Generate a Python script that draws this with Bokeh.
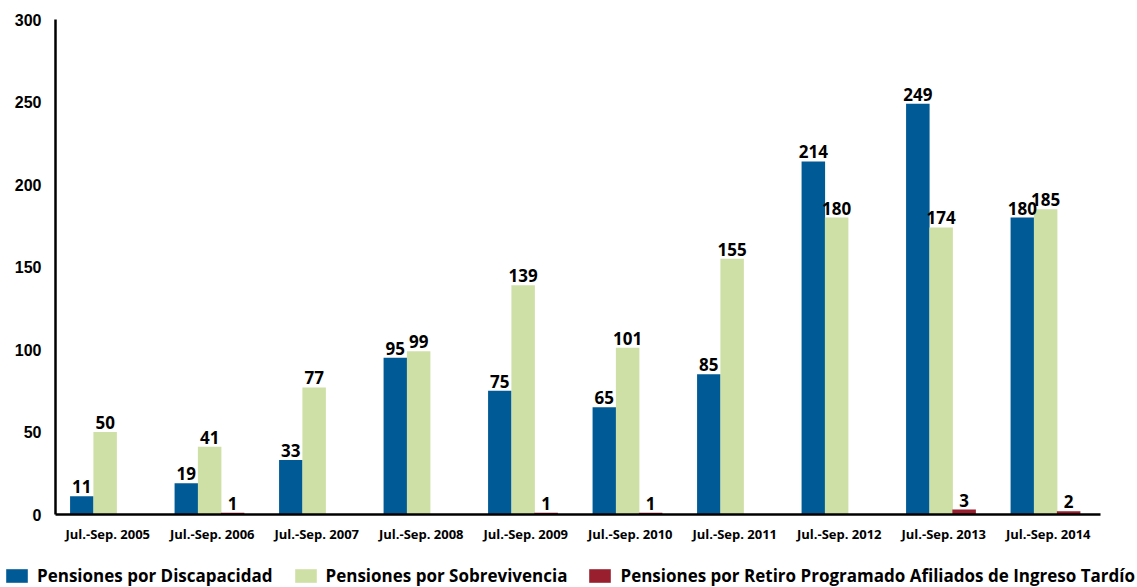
from bokeh.plotting import figure
from bokeh.models import ColumnDataSource, FactorRange, Legend, LegendItem, LabelSet, FixedTicker, Range1d
from bokeh.transform import dodge
from bokeh.core.properties import value
from bokeh.embed import file_html
from bokeh.resources import INLINE

categories = ["Jul.-Sep. 2005", "Jul.-Sep. 2006", "Jul.-Sep. 2007", "Jul.-Sep. 2008",
              "Jul.-Sep. 2009", "Jul.-Sep. 2010", "Jul.-Sep. 2011", "Jul.-Sep. 2012",
              "Jul.-Sep. 2013", "Jul.-Sep. 2014"]
discapacidad = [11, 19, 33, 95, 75, 65, 85, 214, 249, 180]
sobrevivencia = [50, 41, 77, 99, 139, 101, 155, 180, 174, 185]
retiro = [0, 1, 0, 0, 1, 1, 0, 0, 3, 2]
series_names = ["Pensiones por Discapacidad", "Pensiones por Sobrevivencia",
                "Pensiones por Retiro Programado Afiliados de Ingreso Tardío"]
y_ticks = [0, 50, 100, 150, 200, 250, 300]

colors = ["#005A96", "#CFE0A6", "#9A1F2E"]
offsets = [-0.248, -0.025, 0.195]
bar_w = 0.225
LABEL_FONT = "Open Sans"

p = figure(x_range=FactorRange(*categories), y_range=(0, 300),
           width=1137, height=545, output_backend="svg", toolbar_location=None,
           min_border_left=55, min_border_right=37, min_border_top=19, min_border_bottom=31)
p.outline_line_color = None
p.xgrid.visible = False
p.ygrid.visible = False

# legend strip (separate root so that its frame spans the full width)
leg = figure(width=1137, height=42, x_range=FactorRange(*categories), y_range=Range1d(1000, 1001),
             output_backend="svg", toolbar_location=None,
             x_axis_location=None, y_axis_location=None,
             min_border_left=0, min_border_right=0, min_border_top=0, min_border_bottom=0)
leg.outline_line_color = None
leg.xgrid.visible = False
leg.ygrid.visible = False

items = []
for vals, col, off, name in zip([discapacidad, sobrevivencia, retiro], colors, offsets, series_names):
    src = ColumnDataSource(dict(cat=categories, v=vals,
                                lab=[str(v) if v > 0 else "" for v in vals]))
    p.vbar(x=dodge("cat", off, range=p.x_range), top="v", width=bar_w, source=src,
           fill_color=col, line_color=None)
    labels = LabelSet(x=dodge("cat", off, range=p.x_range), y="v", text="lab", source=src,
                      text_align="center", text_baseline="bottom", y_offset=3,
                      text_font=value(LABEL_FONT), text_font_style="bold",
                      text_font_size="17px", text_color="black")
    p.add_layout(labels)
    # same data in the legend strip (outside its visible y range) to carry the legend swatch
    r = leg.vbar(x=dodge("cat", off, range=leg.x_range), top="v", width=bar_w, source=src,
                 fill_color=col, line_color=None)
    items.append(LegendItem(label=name, renderers=[r]))

p.yaxis.ticker = FixedTicker(ticks=y_ticks)
for ax in (p.xaxis[0], p.yaxis[0]):
    ax.axis_line_color = "black"
    ax.axis_line_width = 2.5
    ax.major_tick_line_color = None
    ax.minor_tick_line_color = None
    ax.major_tick_out = 0
    ax.major_tick_in = 0
p.yaxis.major_label_text_font = "Liberation Sans"
p.yaxis.major_label_text_font_style = "bold"
p.yaxis.major_label_text_font_size = "16px"
p.yaxis.major_label_text_color = "black"
p.yaxis.major_label_standoff = 14
p.xaxis.major_label_text_font = LABEL_FONT
p.xaxis.major_label_text_font_style = "bold"
p.xaxis.major_label_text_font_size = "13px"
p.xaxis.major_label_text_color = "black"
p.xaxis.major_label_standoff = 10

legend = Legend(items=items, orientation="horizontal", location=(3, 0),
                glyph_width=27, glyph_height=17, label_text_font=LABEL_FONT,
                label_text_font_style="bold", label_text_font_size="17px",
                label_text_color="black", spacing=19, padding=0, margin=0,
                label_standoff=7, border_line_color=None, background_fill_alpha=0,
                label_height=17)
leg.add_layout(legend, "center")

open("out.html", "w").write(file_html([p, leg], INLINE))
